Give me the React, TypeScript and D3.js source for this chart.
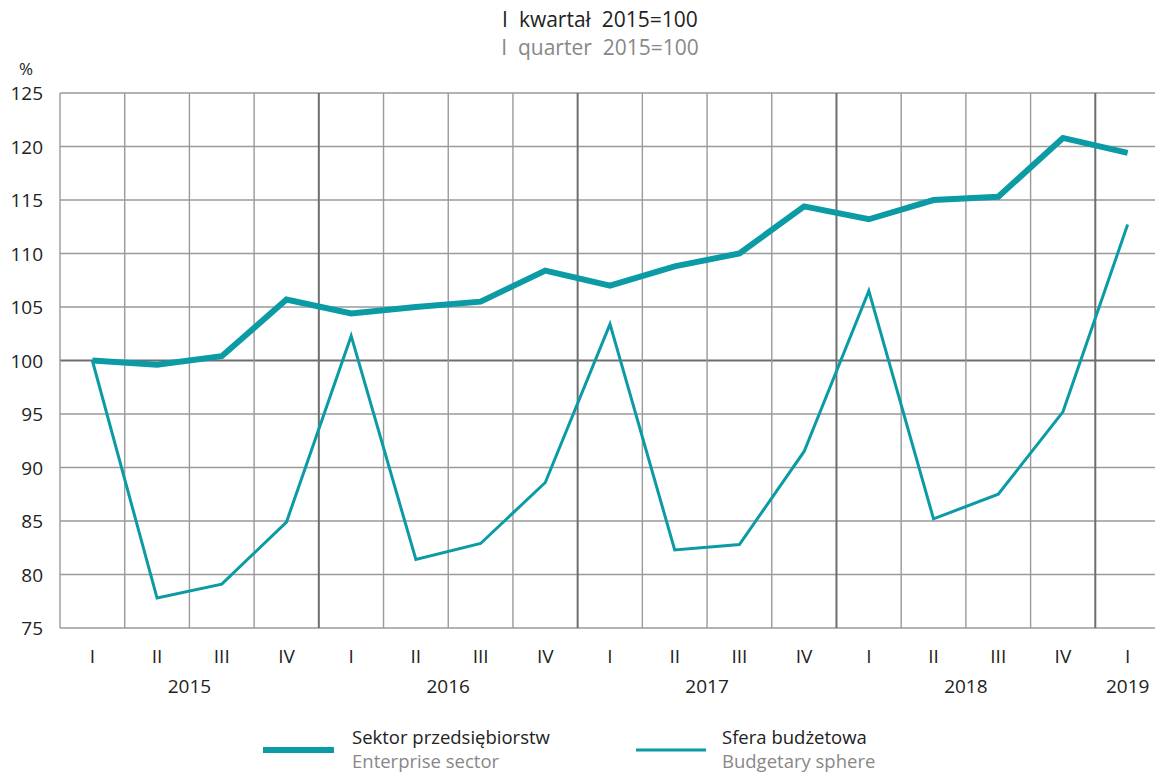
import * as d3 from "d3";

const WIDTH = 1155;
const HEIGHT = 774;
const PLOT = { left: 60, right: 1160, top: 93, bottom: 628 };
const TEAL = "#0b9ba5";
const FONT = "'Open Sans', 'Noto Sans', sans-serif";

const QUARTERS = ["I", "II", "III", "IV", "I", "II", "III", "IV", "I", "II", "III", "IV", "I", "II", "III", "IV", "I"];
const YEARS = [
  { label: "2015", from: 0, to: 3 },
  { label: "2016", from: 4, to: 7 },
  { label: "2017", from: 8, to: 11 },
  { label: "2018", from: 12, to: 15 },
  { label: "2019", from: 16, to: 16 },
];
const ENTERPRISE = [100, 99.6, 100.4, 105.7, 104.4, 105.0, 105.5, 108.4, 107.0, 108.8, 110.0, 114.4, 113.2, 115.0, 115.3, 120.8, 119.4];
const BUDGETARY = [100, 77.8, 79.1, 84.9, 102.3, 81.4, 82.9, 88.6, 103.4, 82.3, 82.8, 91.5, 106.5, 85.2, 87.5, 95.2, 112.7];
const Y_TICKS = [75, 80, 85, 90, 95, 100, 105, 110, 115, 120, 125];

export default function App() {
  const x = d3.scaleBand<number>()
    .domain(QUARTERS.map((_, i) => i))
    .range([PLOT.left, PLOT.right])
    .paddingInner(0)
    .paddingOuter(0);
  const y = d3.scaleLinear().domain([75, 125]).range([PLOT.bottom, PLOT.top]);
  const cx = (i: number) => (x(i) ?? 0) + x.bandwidth() / 2;

  const line = d3.line<number>()
    .x((_, i) => cx(i))
    .y((d) => y(d));

  return (
    <svg width={WIDTH} height={HEIGHT} style={{ position: "absolute", left: 0, top: 0, fontFamily: FONT }}>
      <rect width={WIDTH} height={HEIGHT} fill="#fff" />

      <text x={600} y={27} textAnchor="middle" fontSize={21} fill="#222" style={{ whiteSpace: "pre" }}>I  kwartał  2015=100</text>
      <text x={600} y={55} textAnchor="middle" fontSize={21} fill="#888" style={{ whiteSpace: "pre" }}>I  quarter  2015=100</text>
      <text x={26} y={75} textAnchor="middle" fontSize={17} fill="#222">%</text>

      {/* horizontal grid */}
      {Y_TICKS.map((t) => (
        <g key={`y-${t}`}>
          <line x1={PLOT.left} x2={PLOT.right} y1={y(t)} y2={y(t)}
            stroke={t === 100 ? "#6e6e6e" : "#9a9a9a"} strokeWidth={t === 100 ? 2 : 1.4} />
          <text x={43} y={y(t) + 7} textAnchor="end" fontSize={19} fill="#222">{t}</text>
        </g>
      ))}

      {/* vertical grid */}
      {QUARTERS.map((_, i) => {
        const xx = x(i) ?? 0;
        const yearStart = i > 0 && i % 4 === 0;
        return (
          <line key={`v-${i}`} x1={xx} x2={xx} y1={PLOT.top} y2={PLOT.bottom}
            stroke={yearStart ? "#6e6e6e" : "#9a9a9a"} strokeWidth={yearStart ? 2 : 1.4} />
        );
      })}

      {QUARTERS.map((q, i) => (
        <text key={`q-${i}`} x={cx(i)} y={663} textAnchor="middle" fontSize={19} fill="#222">{q}</text>
      ))}
      {YEARS.map((yr) => (
        <text key={yr.label} x={(cx(yr.from) + cx(yr.to)) / 2} y={693} textAnchor="middle" fontSize={19} fill="#222">
          {yr.label}
        </text>
      ))}

      <path d={line(BUDGETARY) || ""} fill="none" stroke={TEAL} strokeWidth={3} strokeLinejoin="miter" />
      <path d={line(ENTERPRISE) || ""} fill="none" stroke={TEAL} strokeWidth={6} strokeLinejoin="miter" />

      {/* legend */}
      <line x1={263} x2={334} y1={750} y2={750} stroke={TEAL} strokeWidth={6} />
      <text x={352} y={744} fontSize={18.5} fill="#222">Sektor przedsiębiorstw</text>
      <text x={352} y={768} fontSize={18.5} fill="#888">Enterprise sector</text>
      <line x1={636} x2={706} y1={750} y2={750} stroke={TEAL} strokeWidth={3} />
      <text x={722} y={744} fontSize={18.5} fill="#222">Sfera budżetowa</text>
      <text x={722} y={768} fontSize={18.5} fill="#888">Budgetary sphere</text>
    </svg>
  );
}
